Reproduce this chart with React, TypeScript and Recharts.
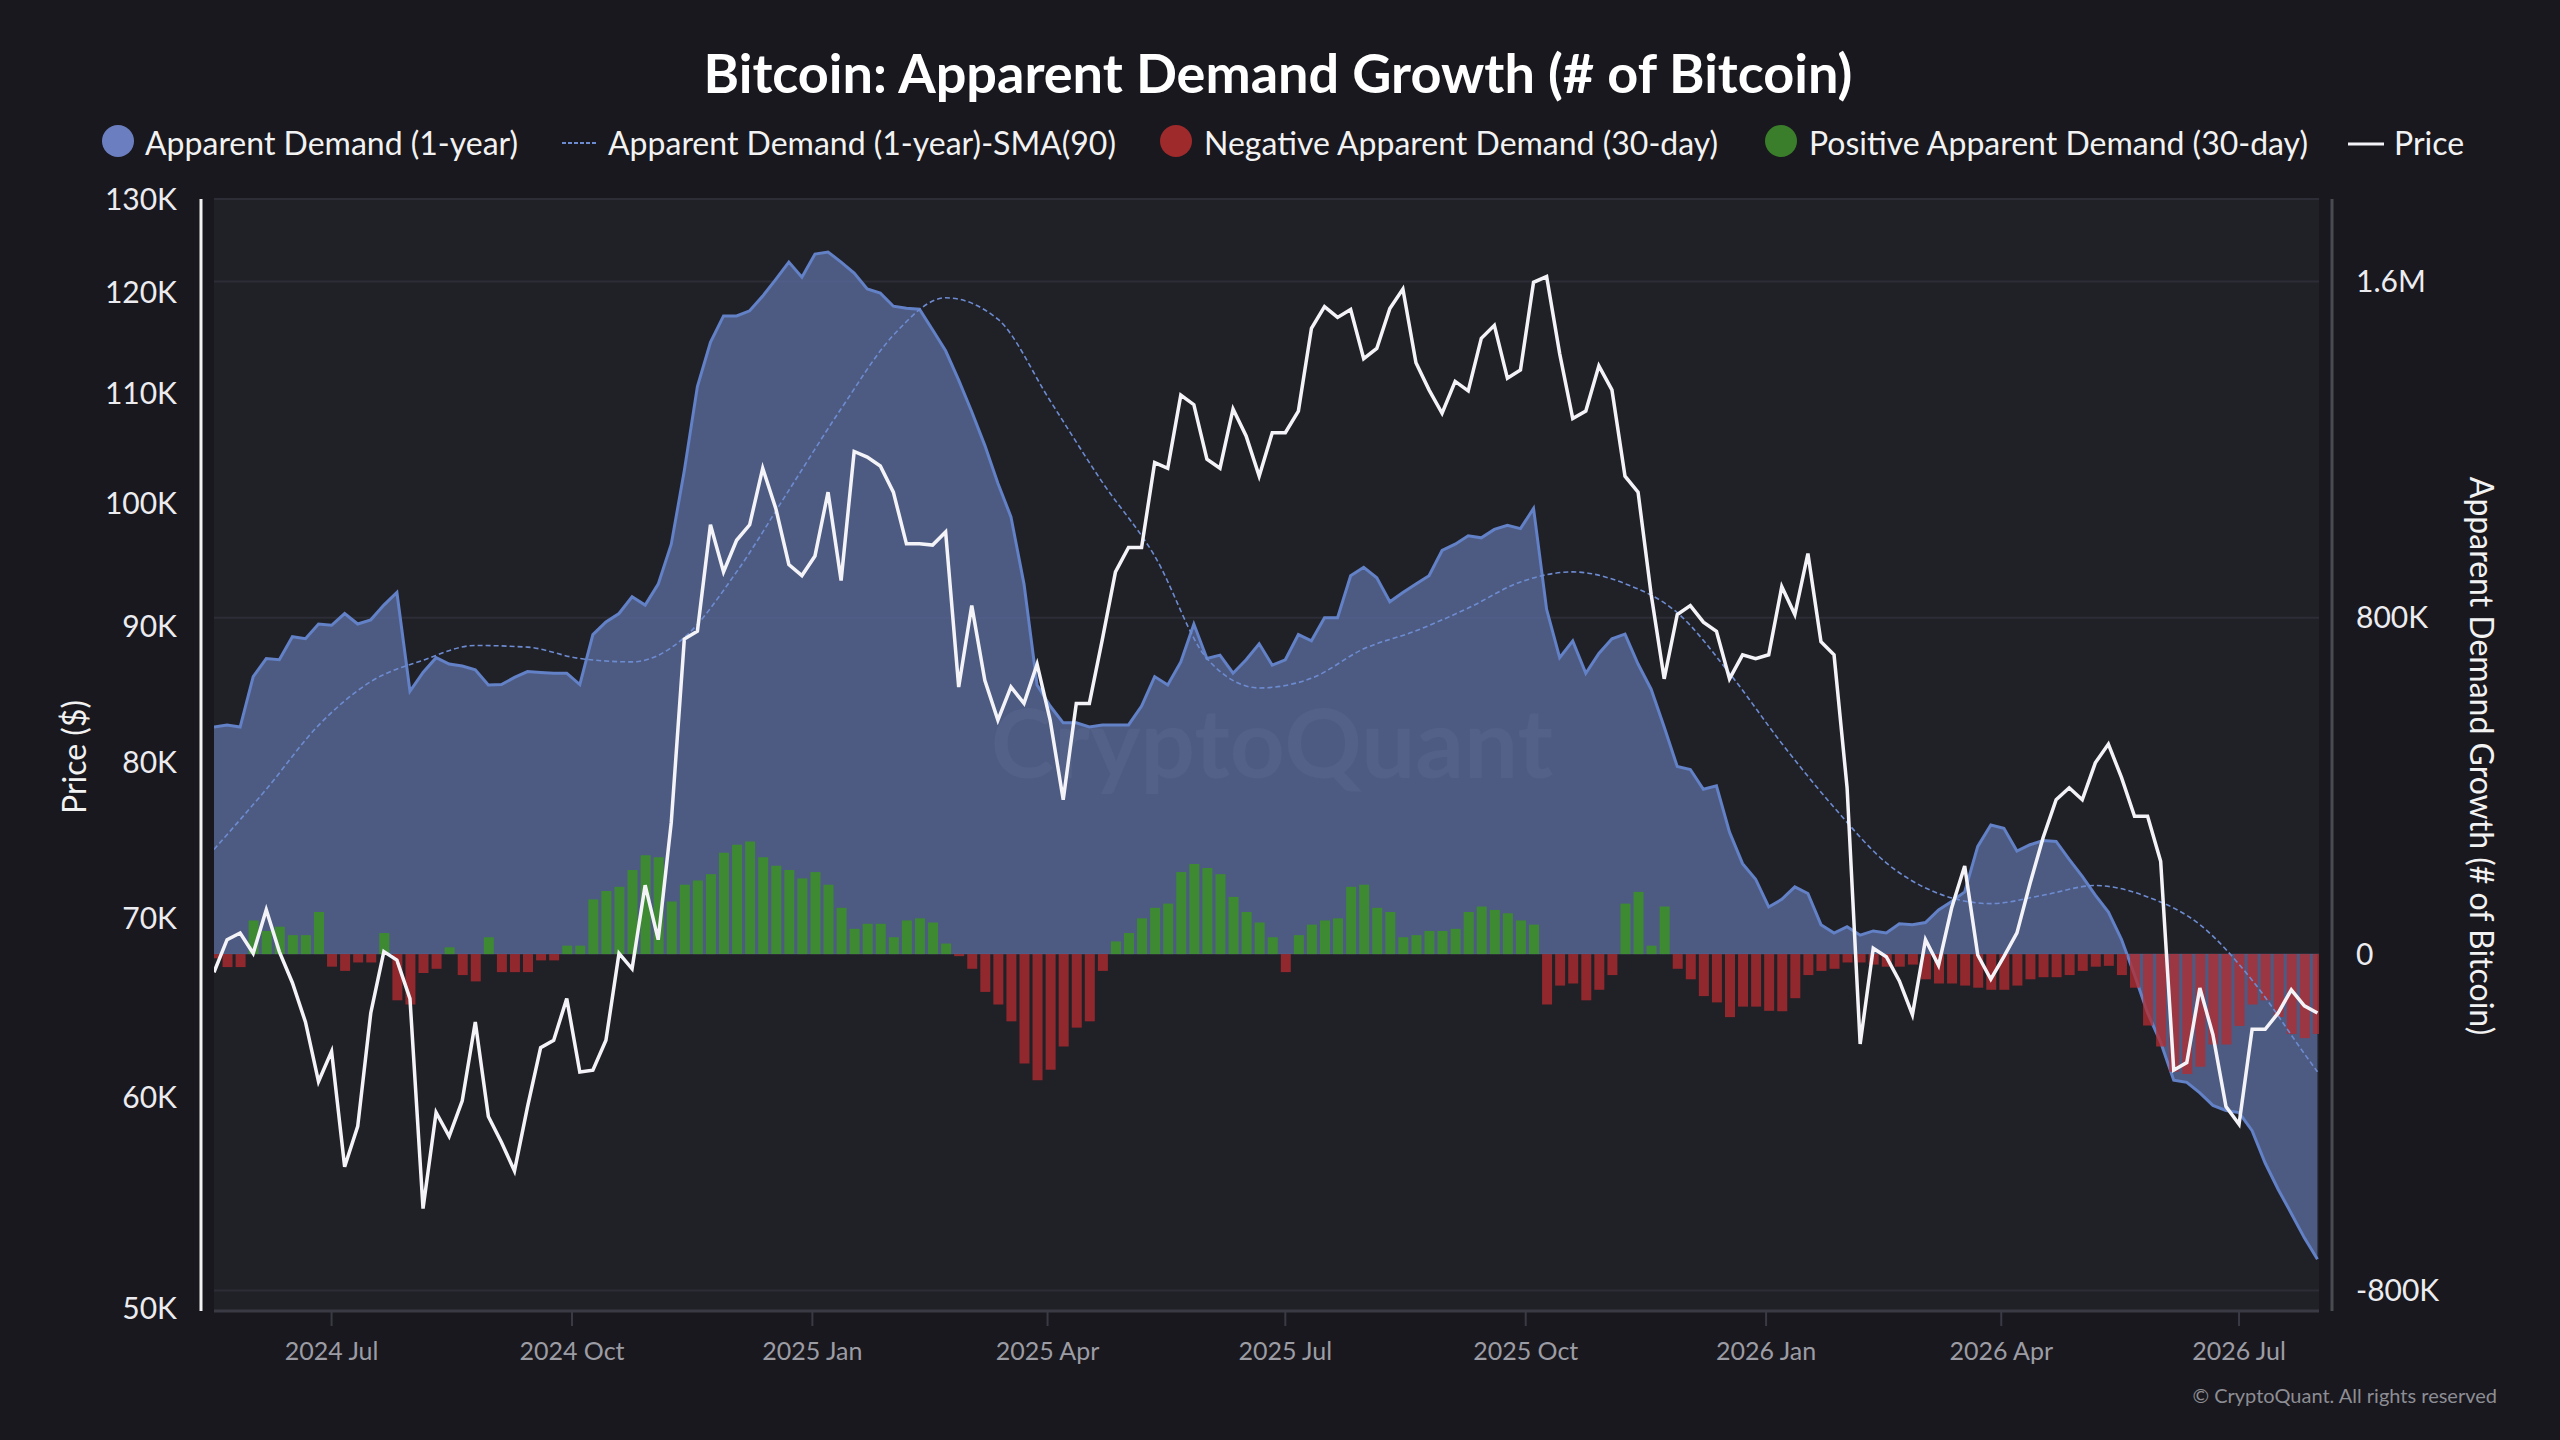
import React from 'react'
import { ComposedChart, Area, Bar, Line, XAxis, YAxis, CartesianGrid } from 'recharts'

// sampling: one point every 5 days from 17 May 2024
const START = Date.UTC(2024, 4, 17)
const DAY = 86400000
const STEP_DAYS = 5
const END = START + 805.6 * DAY

// BTC price, thousand $
const priceK = [
  66.8, 68.7, 69.1, 67.9, 70.5, 68.0, 66.2, 64.0, 60.8, 62.4,
  56.5, 58.5, 64.5, 68.0, 67.5, 65.3, 54.5, 59.2, 58.0, 59.8,
  64.0, 59.0, 57.7, 56.3, 59.5, 62.6, 63.0, 65.3, 61.3, 61.4,
  63.0, 67.9, 67.0, 72.0, 68.7, 76.0, 89.0, 89.6, 98.2, 94.3,
  96.9, 98.2, 103.1, 99.6, 94.9, 94.0, 95.6, 101.0, 93.6, 104.6,
  104.1, 103.3, 101.0, 96.6, 96.6, 96.5, 97.6, 85.4, 91.6, 85.9,
  83.0, 85.4, 84.2, 87.1, 83.0, 77.5, 84.2, 84.2, 89.0, 94.3,
  96.3, 96.3, 103.6, 103.1, 109.8, 108.9, 103.9, 103.1, 108.5, 106.0,
  102.4, 106.3, 106.3, 108.3, 116.3, 118.5, 117.4, 118.2, 113.3, 114.3,
  118.3, 120.3, 112.9, 110.3, 108.1, 111.1, 110.2, 115.3, 116.6, 111.4,
  112.2, 121.0, 121.6, 113.8, 107.6, 108.3, 112.6, 110.3, 102.4, 101.0,
  92.5, 86.0, 90.9, 91.6, 90.3, 89.6, 86.0, 87.8, 87.5, 87.8,
  93.1, 90.9, 95.8, 88.8, 87.8, 78.3, 62.8, 68.2, 67.7, 66.3,
  64.4, 68.7, 67.2, 70.6, 73.2, 67.8, 66.4, 67.7, 69.1, 72.1,
  75.0, 77.5, 78.3, 77.5, 80.0, 81.3, 79.0, 76.4, 76.4, 73.5,
  61.4, 61.8, 65.9, 63.3, 59.5, 58.6, 63.6, 63.6, 64.5, 65.8,
  64.9, 64.5,
]

// Apparent Demand (1-year), thousand BTC
const demand1yK = [
  540, 545, 540, 660, 703, 700, 755, 750, 785, 782,
  810, 785, 795, 830, 860, 625, 670, 705, 690, 685,
  676, 640, 641, 658, 672, 670, 668, 668, 641, 760,
  790, 810, 850, 830, 880, 975, 1150, 1350, 1455, 1518,
  1518, 1530, 1565, 1605, 1646, 1610, 1665, 1670, 1646, 1620,
  1582, 1572, 1541, 1536, 1534, 1485, 1435, 1365, 1290, 1210,
  1120, 1040, 880, 640, 590, 550, 550, 540, 545, 545,
  545, 590, 660, 640, 695, 785, 703, 711, 668, 700,
  738, 687, 700, 760, 745, 800, 800, 900, 920, 895,
  838, 860, 880, 900, 960, 975, 995, 990, 1010, 1020,
  1012, 1060, 820, 705, 745, 668, 715, 750, 761, 690,
  630, 540, 446, 439, 392, 400, 290, 215, 178, 112,
  130, 160, 144, 70, 50, 65, 45, 55, 50, 72,
  70, 75, 105, 125, 148, 256, 307, 299, 245, 260,
  270, 268, 225, 185, 140, 100, 35, -50, -140, -210,
  -300, -305, -330, -360, -372, -377, -420, -497, -560, -617,
  -675, -726,
]

// Apparent Demand (30-day), thousand BTC
const demand30dK = [
  -10, -31, -31, 80, 55, 65, 45, 45, 100, -30,
  -40, -20, -20, 50, -110, -120, -45, -35, 16, -50,
  -65, 40, -43, -43, -43, -15, -15, 20, 20, 130,
  150, 160, 200, 235, 230, 125, 165, 175, 190, 241,
  260, 268, 230, 210, 200, 180, 195, 165, 110, 60,
  72, 72, 40, 80, 85, 75, 25, -5, -35, -90,
  -120, -160, -260, -300, -275, -220, -175, -160, -40, 30,
  50, 85, 110, 120, 195, 214, 205, 190, 136, 100,
  75, 40, -43, 45, 70, 80, 85, 160, 165, 110,
  100, 40, 45, 55, 55, 60, 100, 113, 105, 97,
  80, 70, -120, -75, -70, -110, -85, -50, 120, 148,
  20, 113, -35, -60, -100, -115, -150, -125, -125, -135,
  -136, -105, -50, -40, -35, -20, -20, -25, -30, -30,
  -25, -60, -70, -70, -75, -80, -85, -85, -75, -60,
  -55, -55, -50, -40, -30, -28, -50, -80, -170, -220,
  -280, -285, -268, -215, -215, -171, -120, -110, -150, -190,
  -200, -190,
]

// SMA(90) of the 1-year demand, thousand BTC, read every 4th sample
const smaIdx = [
  0, 4, 8, 12, 16, 20, 24, 28, 32, 36, 40, 44, 48, 52, 56, 60, 64, 68, 72, 76, 80,
  84, 88, 92, 96, 100, 104, 108, 112, 116, 120, 124, 128, 132, 136, 140, 144, 148, 152, 156, 160, 161,
]
const smaK = [
  249, 392, 544, 648, 699, 734, 730, 703, 695, 753, 909, 1103, 1297, 1472, 1561, 1510, 1316, 1122, 947, 703, 633,
  656, 726, 769, 823, 885, 909, 881, 812, 668, 501, 349, 217, 144, 120, 140, 163, 136, 70, -62, -237, -280,
]

const priceTicks = [50000, 60000, 70000, 80000, 90000, 100000, 110000, 120000, 130000]
const demandTicks = [-800000, 0, 800000, 1600000]
const MONTHS = ['Jan', 'Feb', 'Mar', 'Apr', 'May', 'Jun', 'Jul', 'Aug', 'Sep', 'Oct', 'Nov', 'Dec']
const xTickMonths = [
  [2024, 6], [2024, 9], [2025, 0], [2025, 3], [2025, 6], [2025, 9], [2026, 0], [2026, 3], [2026, 6],
]
const xTicks = xTickMonths.map(([y, m]) => Date.UTC(y, m, 1))

const rows = priceK.map((p, i) => {
  const d30 = demand30dK[i] * 1000
  const s = smaIdx.indexOf(i)
  return {
    t: START + i * STEP_DAYS * DAY,
    price: p * 1000,
    demand: demand1yK[i] * 1000,
    pos: d30 > 0 ? d30 : 0,
    neg: d30 < 0 ? d30 : 0,
    sma: s >= 0 ? smaK[s] * 1000 : undefined,
  }
})

const fmtDate = (v: number) => {
  const d = new Date(v)
  return `${d.getUTCFullYear()} ${MONTHS[d.getUTCMonth()]}`
}
const fmtPrice = (v: number) => `${Math.round(v / 1000)}K`
const fmtDemand = (v: number) => {
  if (v === 0) return '0'
  if (Math.abs(v) >= 1000000) return `${v / 1000000}M`
  return `${v / 1000}K`
}

const PLOT = { left: 214, top: 199, right: 2319, bottom: 1311 }
const BG = '#19181e'
const PLOT_BG = '#202027'

export default function App() {
  return (
    <div style={{ position: 'fixed', left: 0, top: 0, width: 2560, height: 1440, background: BG, fontFamily: 'Lato, sans-serif', overflow: 'hidden' }}>
      <svg width={2560} height={1440} style={{ position: 'absolute', left: 0, top: 0 }}>
        <rect x={PLOT.left} y={PLOT.top} width={PLOT.right - PLOT.left} height={PLOT.bottom - PLOT.top} fill={PLOT_BG} />
      </svg>
      <div style={{ position: 'absolute', left: 0, top: 0 }}>
        <ComposedChart width={2560} height={1440} data={rows} stackOffset="sign"
          margin={{ top: PLOT.top, right: 0, bottom: 69, left: 0 }}>
          <CartesianGrid yAxisId="right" vertical={false} stroke="#2d2d37" strokeWidth={2} />
          <XAxis dataKey="t" type="number" domain={[START, END]} ticks={xTicks} interval={0}
            tickFormatter={fmtDate} allowDataOverflow height={60} tickSize={15} tickMargin={16}
            tickLine={{ stroke: '#3a3a45', strokeWidth: 2 }} axisLine={{ stroke: '#3a3a45', strokeWidth: 3 }}
            tick={{ fill: '#9c9ca4', fontSize: 25 }} />
          <YAxis yAxisId="left" orientation="left" width={PLOT.left} scale="log" domain={[49900, 130000]}
            allowDataOverflow ticks={priceTicks} interval={0} tickFormatter={fmtPrice}
            axisLine={false} tickLine={false} tickSize={0} tickMargin={37}
            tick={{ fill: '#ececf0', fontSize: 30 }} />
          <YAxis yAxisId="right" orientation="right" width={2560 - PLOT.right} domain={[-849000, 1796000]}
            allowDataOverflow ticks={demandTicks} interval={0} tickFormatter={fmtDemand}
            axisLine={false} tickLine={false} tickSize={0} tickMargin={37}
            tick={{ fill: '#ececf0', fontSize: 30 }} />
          <Area yAxisId="right" dataKey="demand" type="linear" baseValue={0}
            stroke="#6281c6" strokeWidth={3} fill="#5a6c9e" fillOpacity={0.78}
            dot={false} activeDot={false} isAnimationActive={false} />
          <Bar yAxisId="right" dataKey="pos" stackId="d30" fill="#3c8d2e" fillOpacity={0.95} barSize={10} isAnimationActive={false} />
          <Bar yAxisId="right" dataKey="neg" stackId="d30" fill="#b42b2f" fillOpacity={0.76} barSize={10} isAnimationActive={false} />
          <Line yAxisId="right" dataKey="sma" type="monotone" connectNulls stroke="#6d8bd0" strokeWidth={1.6}
            strokeDasharray="5 3" dot={false} activeDot={false} isAnimationActive={false} />
          <Line yAxisId="left" dataKey="price" type="linear" stroke="#f4f4f8" strokeWidth={3.5}
            dot={false} activeDot={false} isAnimationActive={false} />
        </ComposedChart>
      </div>
      <svg width={2560} height={1440} style={{ position: 'absolute', left: 0, top: 0, pointerEvents: 'none' }}>
        <text x={1272} y={778} textAnchor="middle" fontSize={96} fontWeight={700} fill="#ffffff" fillOpacity={0.035}>CryptoQuant</text>

        <text x={1278} y={93} textAnchor="middle" fontSize={54} fontWeight={700} fill="#ffffff">
          Bitcoin: Apparent Demand Growth (# of Bitcoin)
        </text>

        <circle cx={118} cy={141} r={16} fill="#6b7fc0" />
        <text x={145} y={155} fontSize={32} fill="#f2f2f2">Apparent Demand (1-year)</text>
        <line x1={562} x2={598} y1={143} y2={143} stroke="#6d8bd0" strokeWidth={2} strokeDasharray="4 2" />
        <text x={608} y={155} fontSize={32} fill="#f2f2f2">Apparent Demand (1-year)-SMA(90)</text>
        <circle cx={1176} cy={141} r={16} fill="#9e2a2b" />
        <text x={1204} y={155} fontSize={32} fill="#f2f2f2">Negative Apparent Demand (30-day)</text>
        <circle cx={1781} cy={141} r={16} fill="#3a7d2a" />
        <text x={1809} y={155} fontSize={32} fill="#f2f2f2">Positive Apparent Demand (30-day)</text>
        <line x1={2348} x2={2384} y1={144} y2={144} stroke="#f4f4f8" strokeWidth={3} />
        <text x={2394} y={155} fontSize={32} fill="#f2f2f2">Price</text>

        <line x1={201} x2={201} y1={PLOT.top} y2={PLOT.bottom} stroke="#f2f2f2" strokeWidth={3} />
        <line x1={2332} x2={2332} y1={PLOT.top} y2={PLOT.bottom} stroke="#4a4a53" strokeWidth={3} />

        <text x={73} y={757} transform="rotate(-90 73 757)" textAnchor="middle" dominantBaseline="central"
          fontSize={32} fill="#f2f2f2">Price ($)</text>
        <text x={2482} y={756} transform="rotate(90 2482 756)" textAnchor="middle" dominantBaseline="central"
          fontSize={32} fill="#f2f2f2">Apparent Demand Growth (# of Bitcoin)</text>

        <text x={2497} y={1403} textAnchor="end" fontSize={20} fill="#8d8d94">© CryptoQuant. All rights reserved</text>
      </svg>
    </div>
  )
}
